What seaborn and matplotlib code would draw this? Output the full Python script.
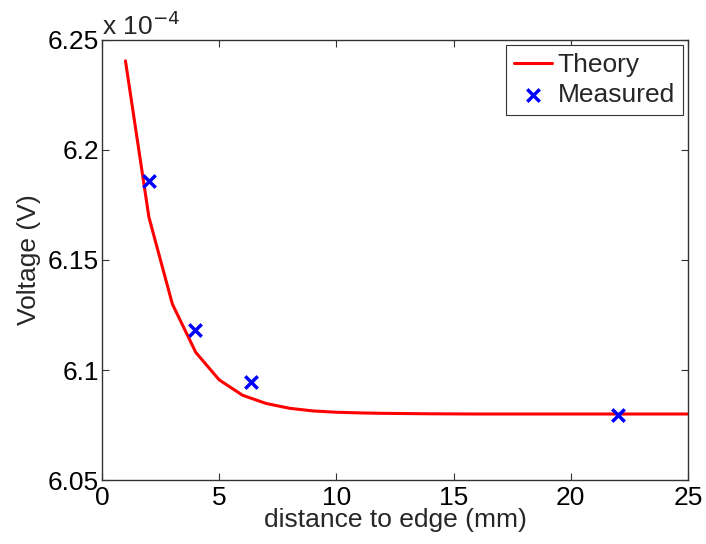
import matplotlib
matplotlib.use("Agg")
import matplotlib.pyplot as plt
import seaborn as sns
import pandas as pd

# Data (voltage in units of 1e-4 V)
theory_x = [1, 2, 3, 4, 5, 6, 7, 8, 9, 10, 11, 12, 14, 16, 18, 20, 22, 25]
theory_v = [6.2405, 6.1695, 6.1300, 6.1080, 6.0955, 6.0885, 6.0848, 6.0826,
            6.0814, 6.0808, 6.0805, 6.0803, 6.0801, 6.0800, 6.0800, 6.0800,
            6.0800, 6.0800]
meas_x = [2.0, 3.95, 6.35, 22.0]
meas_v = [6.1859, 6.1182, 6.0945, 6.0797]

sns.set_style("white")
plt.rcParams['font.family'] = ['Liberation Sans', 'DejaVu Sans']

FS = 19
fig = plt.figure(figsize=(7.06, 5.44), dpi=100)
ax = fig.add_axes([0.1445, 0.1176, 0.83, 0.809])

th = pd.DataFrame({"x": theory_x, "v": theory_v})
ms = pd.DataFrame({"x": meas_x, "v": meas_v})

sns.lineplot(data=th, x="x", y="v", ax=ax, color="#ff0000", lw=2.2,
             label="Theory", sort=False)
sns.scatterplot(data=ms, x="x", y="v", ax=ax, marker="x", color="#0000ff",
                s=80, linewidth=2.5, label="Measured", zorder=3)

ax.set_xlim(0, 25)
ax.set_ylim(6.05, 6.25)
ax.set_xticks([0, 5, 10, 15, 20, 25])
ax.set_yticks([6.05, 6.1, 6.15, 6.2, 6.25])
ax.set_yticklabels(["6.05", "6.1", "6.15", "6.2", "6.25"])
ax.tick_params(direction="in", length=5, width=0.8, labelsize=FS,
               top=True, right=True, bottom=True, left=True, colors="#333333",
               labelcolor="black", pad=2)
ax.tick_params(axis="x", pad=4)
for s in ax.spines.values():
    s.set_color("#333333")
    s.set_linewidth(1.0)

ax.set_xlabel("distance to edge (mm)", fontsize=FS, labelpad=-1)
ax.set_ylabel("Voltage (V)", fontsize=FS, labelpad=5)
ax.text(0.0, 1.0, "x 10$^{-4}$", transform=ax.transAxes, fontsize=FS,
        ha="left", va="bottom")

leg = ax.legend(loc="upper right", fontsize=FS, frameon=True, fancybox=False,
                borderpad=0.3, handlelength=1.45, handletextpad=0.2,
                labelspacing=0.22, borderaxespad=0.2, framealpha=1)
leg.get_frame().set_edgecolor("#333333")
leg.get_frame().set_linewidth(0.8)

fig.savefig("out.png", dpi=100)
